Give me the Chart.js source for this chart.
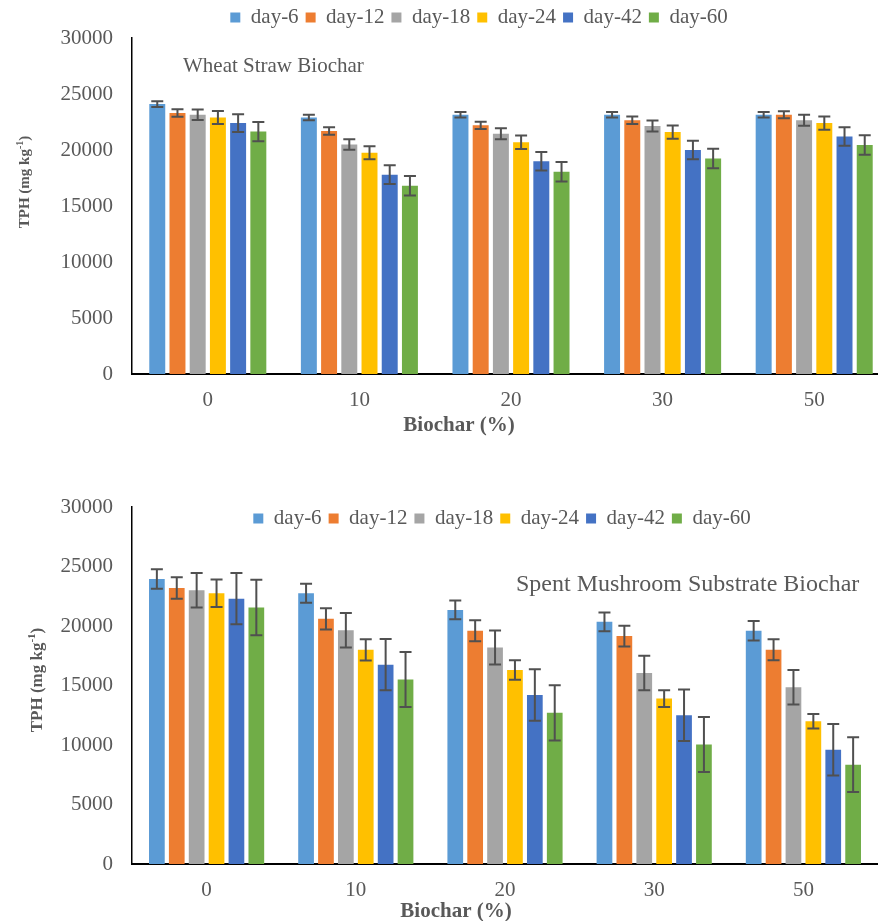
<!DOCTYPE html>
<html>
<head>
<meta charset="utf-8">
<title>TPH vs biochar</title>
<script src="https://cdn.jsdelivr.net/npm/chart.js@4.4.0/dist/chart.umd.min.js"></script>
<style>
  html, body { margin: 0; padding: 0; background: #fff; overflow: hidden; }
  .box { position: absolute; left: 0; }
  #wheatBox { top: 0; width: 890px; height: 440px; }
  #smsBox { top: 455px; width: 878px; height: 466px; }
</style>
</head>
<body>
<div id="wheatBox" class="box"><canvas id="wheat"></canvas></div>
<div id="smsBox" class="box"><canvas id="sms"></canvas></div>
<script>
// biochar dose (%) on the x axis
const categories = ['0', '10', '20', '30', '50'];
const days = ['day-6', 'day-12', 'day-18', 'day-24', 'day-42', 'day-60'];
const dayColors = ['#5B9BD5', '#ED7D31', '#A5A5A5', '#FFC000', '#4472C4', '#70AD47'];

// TPH (mg/kg), one row per sampling day, columns follow categories
const wheatMeans = [
  [24100, 22900, 23150, 23150, 23150],
  [23300, 21700, 22200, 22650, 23150],
  [23150, 20500, 21450, 22150, 22650],
  [22900, 19750, 20700, 21600, 22400],
  [22400, 17800, 19000, 20000, 21200],
  [21650, 16800, 18050, 19250, 20450]
];
const wheatErrors = [
  [250, 240, 250, 240, 240],
  [330, 330, 330, 330, 310],
  [470, 470, 490, 490, 490],
  [580, 580, 600, 590, 600],
  [800, 830, 820, 820, 830],
  [860, 870, 870, 870, 870]
];

const smsMeans = [
  [23950, 22750, 21350, 20350, 19600],
  [23200, 20600, 19600, 19150, 18000],
  [23000, 19650, 18200, 16050, 14850],
  [22750, 18000, 16300, 13900, 12000],
  [22300, 16750, 14200, 12500, 9600],
  [21550, 15500, 12700, 10050, 8350]
];
const smsErrors = [
  [820, 790, 790, 790, 810],
  [900, 890, 880, 880, 880],
  [1450, 1450, 1430, 1450, 1450],
  [1160, 890, 820, 700, 610],
  [2160, 2150, 2170, 2170, 2170],
  [2330, 2310, 2330, 2310, 2310]
];

const yMax = 30000;
const yStep = 5000;

const serif = '"Liberation Serif", "Times New Roman", serif';
const grey = '#595959';

// +/- error bars with caps, drawn over each bar
const errorBars = {
  id: 'errorBars',
  afterDatasetsDraw(chart) {
    const { ctx } = chart;
    const y = chart.scales.y;
    ctx.save();
    ctx.strokeStyle = '#505050';
    ctx.lineWidth = 2;
    chart.data.datasets.forEach((ds, i) => {
      chart.getDatasetMeta(i).data.forEach((bar, j) => {
        const top = y.getPixelForValue(ds.data[j] + ds.errors[j]);
        const bot = y.getPixelForValue(ds.data[j] - ds.errors[j]);
        const half = 6;
        ctx.beginPath();
        ctx.moveTo(bar.x, top); ctx.lineTo(bar.x, bot);
        ctx.moveTo(bar.x - half, top); ctx.lineTo(bar.x + half, top);
        ctx.moveTo(bar.x - half, bot); ctx.lineTo(bar.x + half, bot);
        ctx.stroke();
      });
    });
    ctx.restore();
  }
};

// nudges the legend after layout (it overlaps the plot in the lower chart)
const legendShift = {
  id: 'legendShift',
  afterLayout(chart, args, opts) {
    const lg = chart.legend;
    lg.left += opts.dx; lg.right += opts.dx;
    lg.top += opts.dy; lg.bottom += opts.dy;
  }
};

// caption inside the plot plus both axis titles
const notes = {
  id: 'notes',
  afterDraw(chart, args, o) {
    const ctx = chart.ctx;
    ctx.save();
    ctx.fillStyle = grey;
    ctx.textBaseline = 'middle';

    ctx.font = `${o.captionSize}px ${serif}`;
    ctx.textAlign = 'left';
    ctx.fillText(o.caption, o.captionX, o.captionY);

    ctx.font = `bold 21px ${serif}`;
    ctx.textAlign = 'center';
    ctx.fillText('Biochar (%)', o.xTitleX, o.xTitleY);

    // TPH (mg kg^-1), rotated
    const s = o.yTitleSize;
    const main = `bold ${s}px ${serif}`;
    const sup = `bold ${Math.round(s * 0.65)}px ${serif}`;
    ctx.translate(o.yTitleX, o.yTitleY);
    ctx.rotate(-Math.PI / 2);
    ctx.textAlign = 'left';
    ctx.textBaseline = 'alphabetic';
    ctx.font = main;
    const w1 = ctx.measureText('TPH (mg kg').width;
    const w3 = ctx.measureText(')').width;
    ctx.font = sup;
    const w2 = ctx.measureText('-1').width;
    let x = -(w1 + w2 + w3) / 2;
    const base = s * 0.35;
    ctx.font = main; ctx.fillText('TPH (mg kg', x, base); x += w1;
    ctx.font = sup; ctx.fillText('-1', x, base - s * 0.4); x += w2;
    ctx.font = main; ctx.fillText(')', x, base);
    ctx.restore();
  }
};

function makeChart(id, means, errors, cfg) {
  return new Chart(document.getElementById(id), {
    type: 'bar',
    data: {
      labels: categories,
      datasets: days.map((d, i) => ({
        label: d,
        data: means[i],
        errors: errors[i],
        backgroundColor: dayColors[i],
        borderWidth: 0,
        categoryPercentage: 0.8,
        barPercentage: 0.79
      }))
    },
    options: {
      responsive: true,
      maintainAspectRatio: false,
      animation: false,
      devicePixelRatio: 1,
      layout: { padding: { left: 0, right: 0, top: cfg.padTop, bottom: 0 } },
      plugins: {
        tooltip: { enabled: false },
        legend: {
          position: 'top',
          labels: {
            boxWidth: 10,
            boxHeight: 10,
            padding: 7,
            color: grey,
            font: { family: serif, size: 21 }
          }
        },
        legendShift: cfg.legend,
        notes: cfg.notes
      },
      scales: {
        x: {
          grid: { display: false, drawTicks: false },
          border: { color: '#000', width: 2 },
          ticks: { color: grey, font: { family: serif, size: 21 }, padding: 14 },
          afterFit: (s) => { s.height = cfg.xHeight; }
        },
        y: {
          min: 0,
          max: yMax,
          grid: { display: false, drawTicks: false },
          border: { color: '#000', width: 1.5 },
          ticks: {
            stepSize: yStep,
            color: grey,
            font: { family: serif, size: 21 },
            padding: 19,
            callback: (v) => String(v)
          },
          afterFit: (s) => { s.width = 132; }
        }
      }
    },
    plugins: [errorBars, legendShift, notes]
  });
}

makeChart('wheat', wheatMeans, wheatErrors, {
  padTop: 0,
  xHeight: 66,
  legend: { dx: 34, dy: 0 },
  notes: {
    caption: 'Wheat Straw Biochar', captionSize: 21, captionX: 183, captionY: 66,
    xTitleX: 459, xTitleY: 426,
    yTitleX: 24, yTitleY: 182, yTitleSize: 15
  }
});

makeChart('sms', smsMeans, smsErrors, {
  padTop: 14,
  xHeight: 57,
  legend: { dx: 63, dy: 32 },
  notes: {
    caption: 'Spent Mushroom Substrate Biochar', captionSize: 24, captionX: 516, captionY: 130,
    xTitleX: 456, xTitleY: 457,
    yTitleX: 36, yTitleY: 225, yTitleSize: 17
  }
});
</script>
</body>
</html>
